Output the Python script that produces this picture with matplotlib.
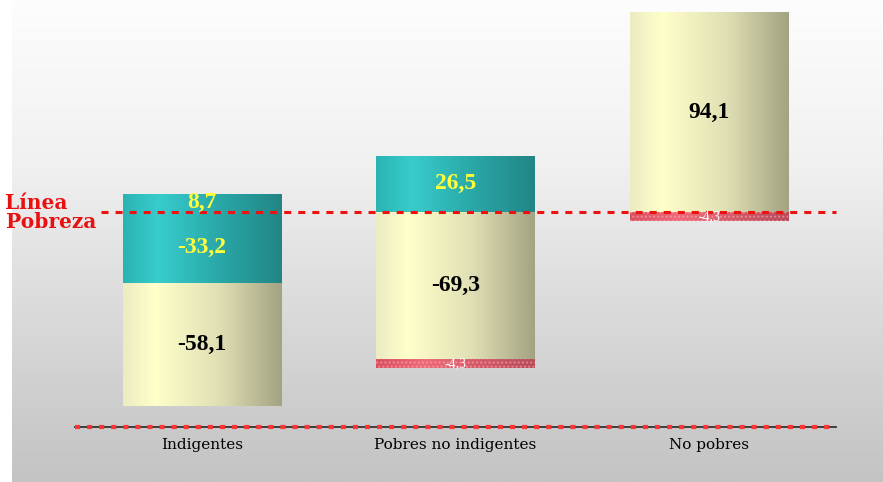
import matplotlib
matplotlib.use("Agg")
import matplotlib.pyplot as plt
import numpy as np
from matplotlib.colors import LinearSegmentedColormap

# ---- data ----
categories = ["Indigentes", "Pobres no indigentes", "No pobres"]
above_teal = [8.7, 26.5, 0.0]
above_cream = [0.0, 0.0, 94.1]
below_teal = [-33.2, 0.0, 0.0]
below_cream = [-58.1, -69.3, 0.0]
below_red = [0.0, -4.3, -4.3]
line_label = ["Línea", "Pobreza"]

def fmt(v):
    return f"{v:.1f}".replace(".", ",")

# ---- figure ----
fig = plt.figure(figsize=(8.83, 4.82), dpi=100)
ax = fig.add_axes([0, 0, 1, 1])
ax.set_axis_off()
XL = (-0.797, 2.686)
YL = (-127.06, 99.76)

# background gradient
bg = LinearSegmentedColormap.from_list("bg", ["#fdfdfd", "#f1f1f1", "#d9d9d9", "#c3c3c3"])
grad_v = np.linspace(0, 1, 256).reshape(-1, 1)
ax.imshow(grad_v, extent=[-0.75, XL[1], YL[0], YL[1]], cmap=bg, aspect="auto",
          origin="upper", zorder=0)

teal_cm = LinearSegmentedColormap.from_list("teal", [(0, "#2ab3b3"), (0.22, "#38cccc"),
                                                     (0.6, "#2aa8a8"), (1, "#228585")])
cream_cm = LinearSegmentedColormap.from_list("cream", [(0, "#ecebc2"), (0.2, "#ffffca"),
                                                       (0.6, "#e1e0b5"), (1, "#a3a383")])
red_cm = LinearSegmentedColormap.from_list("red", [(0, "#d8505f"), (0.3, "#ee6a78"),
                                                   (1, "#b84a58")])
grad_h = np.linspace(0, 1, 256).reshape(1, -1)

x = np.arange(len(categories))
W = 0.625

def draw(heights, bottoms, cmap, hatch=None):
    bars = ax.bar(x, heights, W, bottom=bottoms, color="none", linewidth=0, zorder=2)
    for p, h in zip(bars.patches, heights):
        if h == 0:
            continue
        x0, w = p.get_x(), p.get_width()
        y0, y1 = sorted([p.get_y(), p.get_y() + p.get_height()])
        im = ax.imshow(grad_h, extent=[x0, x0 + w, y0, y1], cmap=cmap, aspect="auto",
                       zorder=2)
        im.set_clip_path(p)
        if hatch:
            p.set_hatch(hatch)
            p.set_edgecolor((1, 0.7, 0.75, 0.5))
            p.set_zorder(2.5)
    return bars

zeros = np.zeros(len(x))
draw(above_teal, zeros, teal_cm)
draw(above_cream, np.array(above_teal), cream_cm)
draw(below_teal, zeros, teal_cm)
draw(below_cream, np.array(below_teal), cream_cm)
draw(below_red, np.array(below_teal) + np.array(below_cream), red_cm, hatch="....")

# labels
def lab(vals, bottoms, color, size, weight):
    for xi, v, b in zip(x, vals, bottoms):
        if v == 0:
            continue
        ax.text(xi, b + v / 2, fmt(v), ha="center", va="center", color=color,
                fontsize=size, fontweight=weight, family="Liberation Serif", zorder=5)

lab(above_teal, zeros, "#ffff3a", 17, "bold")
lab(above_cream, np.array(above_teal), "black", 17, "bold")
lab(below_teal, zeros, "#ffff3a", 17, "bold")
lab(below_cream, np.array(below_teal), "black", 17, "bold")
lab(below_red, np.array(below_teal) + np.array(below_cream), "white", 10, "normal")

# poverty line
ax.plot([-0.4, 2.5], [0, 0], color="#ee1111", lw=2.2, dashes=(2.3, 2.3), zorder=4)
ax.text(-0.778, 4.3, line_label[0], color="#e81010", fontsize=14.5, fontweight="bold",
        family="DejaVu Serif", ha="left", va="center", zorder=5)
ax.text(-0.772, -4.8, line_label[1], color="#e81010", fontsize=14.5, fontweight="bold",
        family="DejaVu Serif", ha="left", va="center", zorder=5)

# bottom baseline
ax.plot([-0.5, 2.5], [-101.2, -101.2], color="#333333", lw=1.3, zorder=3)
ax.plot([-0.5, 2.5], [-101.2, -101.2], color="#ff3333", lw=3, dashes=(1.2, 1.7), zorder=4)

for xi, c in zip(x, categories):
    ax.text(xi, -109.5, c, ha="center", va="center", fontsize=11,
            family="DejaVu Serif", color="black", zorder=5)

ax.set_xlim(*XL)
ax.set_ylim(*YL)
fig.savefig("out.png", dpi=100)
